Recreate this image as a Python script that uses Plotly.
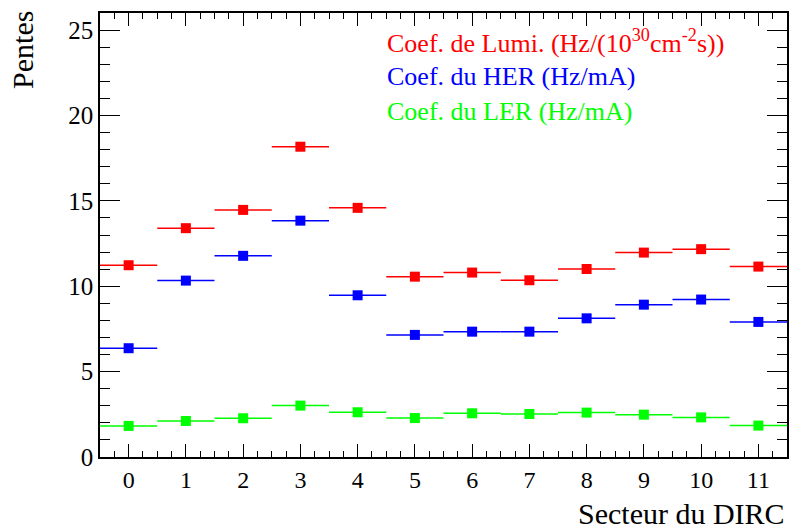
import plotly.graph_objects as go

# Sector numbers and slopes
secteurs = list(range(12))
lumi = [11.23, 13.40, 14.47, 18.17, 14.59, 10.56, 10.80, 10.35, 11.01, 11.97, 12.17, 11.15]
her = [6.37, 10.33, 11.78, 13.84, 9.47, 7.15, 7.34, 7.34, 8.12, 8.92, 9.22, 7.91]
ler = [1.82, 2.11, 2.27, 3.01, 2.62, 2.28, 2.56, 2.52, 2.60, 2.48, 2.32, 1.84]

series = [
    ("Coef. de Lumi. (Hz/(10<sup>30</sup>cm<sup>-2</sup>s))", lumi, "#ff0000"),
    ("Coef. du HER (Hz/mA)", her, "#0000ff"),
    ("Coef. du LER (Hz/mA)", ler, "#00ff00"),
]

font = "Liberation Serif"

fig = go.Figure()
for name, vals, col in series:
    fig.add_trace(go.Scatter(
        x=secteurs, y=vals, mode="markers", name=name,
        marker=dict(symbol="square", size=10, color=col),
        error_x=dict(type="constant", value=0.5, color=col, thickness=1.5, width=0),
        showlegend=False,
    ))

# legend-like text in the top right
for i, (name, vals, col) in enumerate(series):
    fig.add_annotation(
        text=name, xref="paper", yref="paper", x=0.415, y=0.935 - i * 0.078,
        xanchor="left", yanchor="middle", showarrow=False,
        font=dict(family=font, size=26, color=col),
    )

fig.add_annotation(text="Pentes", xref="paper", yref="paper", x=-0.113, y=1.01,
                   xanchor="center", yanchor="top", textangle=-90, showarrow=False,
                   font=dict(family=font, size=30, color="black"))
fig.add_annotation(text="Secteur du DIRC", xref="paper", yref="paper", x=1.0, y=-0.128,
                   xanchor="right", yanchor="middle", showarrow=False,
                   font=dict(family=font, size=30, color="black"))

fig.update_xaxes(
    range=[-0.5, 11.5], tickmode="linear", tick0=0, dtick=1,
    ticks="inside", ticklen=13, tickwidth=1, tickcolor="black",
    minor=dict(ticks="inside", dtick=0.25, tick0=0, ticklen=6, tickcolor="black"),
    showline=True, linecolor="black", linewidth=1.5, mirror="ticks",
    showgrid=False, zeroline=False,
    tickfont=dict(family=font, size=24, color="black"),
)
fig.update_yaxes(
    range=[0, 26], tickmode="linear", tick0=0, dtick=5,
    ticks="inside", ticklen=20, tickwidth=1, tickcolor="black",
    minor=dict(ticks="inside", dtick=1, ticklen=10, tickcolor="black"),
    showline=True, linecolor="black", linewidth=1.5, mirror="ticks",
    showgrid=False, zeroline=False,
    tickfont=dict(family=font, size=25, color="black"),
)

fig.update_layout(
    width=791, height=531,
    margin=dict(l=100, r=2, t=13, b=74),
    plot_bgcolor="white", paper_bgcolor="white",
)

fig.write_html("out.html", config={"displayModeBar": False},
               post_script="document.body.style.margin='0px';")
